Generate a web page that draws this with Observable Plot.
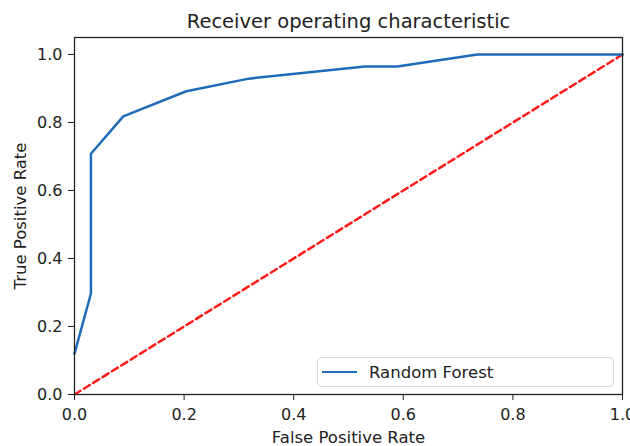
<!DOCTYPE html>
<html><head><meta charset="utf-8">
<script src="https://cdn.jsdelivr.net/npm/d3@7"></script>
<script src="https://cdn.jsdelivr.net/npm/@observablehq/plot@0.6"></script>
<style>
body{margin:0;background:#fff;}
#wrap{position:relative;width:630px;height:446px;font-family:"DejaVu Sans",sans-serif;}
#legend{position:absolute;left:317px;top:357px;width:297px;height:30px;border:1px solid #d8d8d8;border-radius:4px;background:#fff;box-sizing:border-box;display:flex;align-items:center;font-size:16.5px;color:#222;}
#legend .sw{width:35px;height:0;border-top:2.5px solid #1f6bb8;margin-left:4px;margin-right:12px;}
</style>
</head><body>
<div id="wrap"></div>
<script>
const fpr = [0, 0.03, 0.03, 0.089, 0.204, 0.318, 0.53, 0.589, 0.735, 1.0];
const tpr = [0.12, 0.297, 0.708, 0.818, 0.892, 0.929, 0.965, 0.965, 1.0, 1.0];
const chanceX = [0, 1];
const chanceY = [0, 1];
const xTicks = [0, 0.2, 0.4, 0.6, 0.8, 1.0];
const yTicks = [0, 0.2, 0.4, 0.6, 0.8, 1.0];
const title = "Receiver operating characteristic";
const xLabel = "False Positive Rate";
const yLabel = "True Positive Rate";
const seriesName = "Random Forest";

const roc = fpr.map((x, i) => ({x, y: tpr[i]}));
const chance = chanceX.map((x, i) => ({x, y: chanceY[i]}));

const chart = Plot.plot({
  width: 630, height: 446,
  marginLeft: 74, marginRight: 8, marginTop: 37, marginBottom: 52,
  style: {fontFamily: "DejaVu Sans, sans-serif", fontSize: "16px", color: "#222", background: "#fff"},
  x: {domain: [0, 1], ticks: xTicks, tickFormat: d3.format(".1f"), label: null},
  y: {domain: [0, 1.05], ticks: yTicks, tickFormat: d3.format(".1f"), label: null},
  marks: [
    Plot.line(chance, {x: "x", y: "y", stroke: "#ff1a1a", strokeWidth: 2.5, strokeDasharray: "7,4"}),
    Plot.line(roc, {x: "x", y: "y", stroke: "#1f6bb8", strokeWidth: 2.5}),
    Plot.frame({stroke: "#222", strokeWidth: 1.3}),
    Plot.axisX({ticks: xTicks, tickFormat: d3.format(".1f"), tickSize: 6, tickPadding: 8, label: null, fontSize: 16}),
    Plot.axisY({ticks: yTicks, tickFormat: d3.format(".1f"), tickSize: 6, tickPadding: 6, label: null, fontSize: 16}),
    Plot.text([title], {frameAnchor: "top", lineAnchor: "middle", dy: -16, text: d => d, fontSize: 19.5, fill: "#222"}),
    Plot.text([xLabel], {frameAnchor: "bottom", lineAnchor: "middle", dy: 43, text: d => d, fontSize: 16.5, fill: "#222"}),
    Plot.text([yLabel], {frameAnchor: "left", textAnchor: "middle", lineAnchor: "middle", dx: -54, rotate: -90, text: d => d, fontSize: 16.5, fill: "#222"})
  ]
});
const wrap = document.getElementById("wrap");
wrap.appendChild(chart);
const lg = document.createElement("div");
lg.id = "legend";
lg.innerHTML = '<div class="sw"></div><span>' + seriesName + '</span>';
wrap.appendChild(lg);
</script>
</body></html>
